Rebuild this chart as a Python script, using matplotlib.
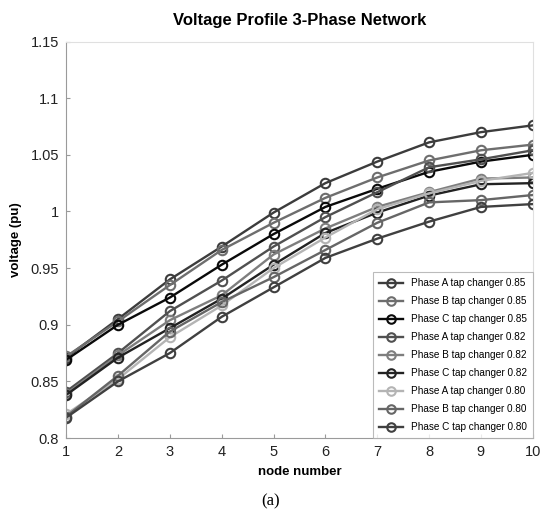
import matplotlib
matplotlib.use("Agg")
import matplotlib.pyplot as plt

nodes = [1, 2, 3, 4, 5, 6, 7, 8, 9, 10]

labels = [
    "Phase A tap changer 0.85",
    "Phase B tap changer 0.85",
    "Phase C tap changer 0.85",
    "Phase A tap changer 0.82",
    "Phase B tap changer 0.82",
    "Phase C tap changer 0.82",
    "Phase A tap changer 0.80",
    "Phase B tap changer 0.80",
    "Phase C tap changer 0.80",
]

a85 = [0.871, 0.905, 0.940, 0.969, 0.999, 1.025, 1.044, 1.061, 1.070, 1.076]
b85 = [0.872, 0.903, 0.935, 0.966, 0.990, 1.012, 1.030, 1.045, 1.054, 1.059]
c85 = [0.869, 0.900, 0.924, 0.953, 0.980, 1.004, 1.020, 1.035, 1.044, 1.050]
a82 = [0.841, 0.875, 0.912, 0.939, 0.969, 0.995, 1.017, 1.039, 1.046, 1.054]
b82 = [0.839, 0.873, 0.904, 0.926, 0.962, 0.985, 1.004, 1.017, 1.029, 1.030]
c82 = [0.838, 0.871, 0.897, 0.923, 0.953, 0.981, 0.999, 1.014, 1.024, 1.025]
a80 = [0.821, 0.852, 0.889, 0.917, 0.950, 0.977, 1.002, 1.016, 1.027, 1.034]
b80 = [0.819, 0.855, 0.894, 0.920, 0.942, 0.966, 0.990, 1.008, 1.010, 1.0145]
c80 = [0.818, 0.850, 0.875, 0.907, 0.933, 0.959, 0.976, 0.991, 1.004, 1.0065]

series = [a85, b85, c85, a82, b82, c82, a80, b80, c80]
colors = ["#3c3c3c", "#6e6e6e", "#0a0a0a", "#505050", "#7e7e7e",
          "#222222", "#b4b4b4", "#666666", "#404040"]

fig = plt.figure(figsize=(5.42, 5.19), dpi=100)
ax = fig.add_axes([0.122, 0.156, 0.861, 0.764])

for vals, col, lab in zip(series, colors, labels):
    ax.plot(nodes, vals, color=col, lw=1.7, marker="o", ms=6.8,
            mfc="none", mec=col, mew=1.5, label=lab)

ax.set_xlim(1, 10)
ax.set_ylim(0.8, 1.15)
ax.set_xticks(nodes)
ax.set_yticks([0.8, 0.85, 0.9, 0.95, 1.0, 1.05, 1.1, 1.15])
ax.set_yticklabels(["0.8", "0.85", "0.9", "0.95", "1", "1.05", "1.1", "1.15"])

for s in ax.spines.values():
    s.set_color("#e0e0e0")
    s.set_linewidth(0.8)
ax.spines["left"].set_color("#9a9a9a")
ax.spines["bottom"].set_color("#9a9a9a")
ax.tick_params(direction="in", length=3, color="#9a9a9a", pad=5,
               labelsize=10.5, labelcolor="#222222", top=False, right=False)

font = "Liberation Sans"
for t in ax.get_xticklabels() + ax.get_yticklabels():
    t.set_family(font)

ax.set_title("Voltage Profile 3-Phase Network", fontsize=12, fontweight="bold",
             family=font, pad=12)
ax.set_xlabel("node number", fontsize=9.5, fontweight="bold", family=font, labelpad=5)
ax.set_ylabel("voltage (pu)", fontsize=9.5, fontweight="bold", family=font, labelpad=6)

leg = ax.legend(loc="lower right", prop={"family": font, "size": 7.2},
                frameon=True, fancybox=False, borderaxespad=0.0,
                handlelength=2.4, labelspacing=0.8, borderpad=0.6,
                markerscale=0.9)
leg.get_frame().set_edgecolor("#aaaaaa")
leg.get_frame().set_linewidth(0.8)

fig.text(0.5, 0.018, "(a)", ha="center", va="bottom", fontsize=12,
         family="Liberation Serif")

fig.savefig("out.png", dpi=100)
